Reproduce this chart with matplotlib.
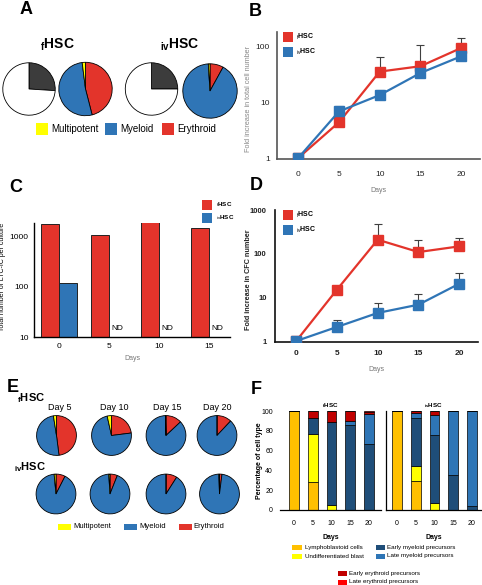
import matplotlib
matplotlib.use('Agg')
import matplotlib.pyplot as plt
from matplotlib.patches import Rectangle
from matplotlib.ticker import NullLocator
import numpy as np

plt.rcParams['font.family'] = 'Liberation Sans'
plt.rcParams['mathtext.fontset'] = 'custom'
plt.rcParams['mathtext.rm'] = 'Liberation Sans'
plt.rcParams['mathtext.bf'] = 'Liberation Sans:bold'

W, H = 482, 585

RED = '#e3342b'
BLUE = '#2f75b6'
YEL = '#ffff00'
DARK = '#3c3c3c'
EGREY = '#404040'

# ---------------- data ----------------
days = [0, 5, 10, 15, 20]

# A: colony forming fraction (dark, rest) and lineage (erythroid, myeloid, multipotent)
a_f_colony = [26, 74]
a_iv_colony = [25, 75]
a_f_lineage = [46, 52, 2]
a_iv_lineage = [8, 91, 1]

# B: fold increase in total cell number
b_f = [1, 4.4, 36, 45, 96]
b_f_up = [1, 4.4, 66, 110, 145]
b_iv = [1, 6.9, 13.6, 34, 68]
b_iv_up = [1, 8.7, 16.7, 34, 68]

# C: LTC-IC per culture
c_days = [0, 5, 10, 15]
c_f = [1820, 1080, 2000, 1480]
c_iv = [118, np.nan, np.nan, np.nan]

# D: fold increase in CFC number
d_f = [1, 15, 209, 109, 147]
d_f_up = [1, 15, 490, 209, 228]
d_iv = [1, 2.1, 4.4, 6.8, 20.5]
d_iv_up = [1, 2.97, 7.5, 12.1, 36.7]

# E: lineage pies per day (erythroid, myeloid, multipotent)
e_titles = ['Day 5', 'Day 10', 'Day 15', 'Day 20']
e_f = [[48, 49.5, 2.5], [23, 73.5, 3.5], [13, 86.5, 0.5], [12, 88, 0]]
e_iv = [[7.5, 91, 1.5], [6, 93, 1], [9, 91, 0], [2, 97.5, 0.5]]

# F: percentage of cell types
f_types = ['Lymphoblastoid cells', 'Undifferentiated blast', 'Early myeloid precursors',
           'Late myeloid precursors', 'Early erythroid precursors', 'Late erythroid precursors']
f_colors = ['#ffc000', '#ffff00', '#1f4e79', '#2e75b6', '#c00000', '#ff0000']
f_f = [[100, 28, 0, 0, 0],
       [0, 49, 5, 0, 0],
       [0, 16, 84, 86, 67],
       [0, 0, 0, 4, 30],
       [0, 7, 11, 10, 2],
       [0, 0, 0, 0, 1]]
f_iv = [[100, 29, 0, 0, 0],
        [0, 15, 7, 0, 0],
        [0, 49, 69, 35, 4],
        [0, 5, 20, 65, 96],
        [0, 2, 4, 0, 0],
        [0, 0, 0, 0, 0]]

fig = plt.figure(figsize=(W / 100, H / 100), dpi=100)


def box(x0, y0, x1, y1):
    return [x0 / W, 1 - y1 / H, (x1 - x0) / W, (y1 - y0) / H]


def ftext(x, y, s, **kw):
    kw.setdefault('ha', 'center')
    kw.setdefault('va', 'center')
    fig.text(x / W, 1 - y / H, s, **kw)


def key(x, y, color, label, w=10, h=10, fs=5, gap=3, **kw):
    fig.add_artist(Rectangle((x / W, 1 - (y + h / 2) / H), w / W, h / H,
                             transform=fig.transFigure, facecolor=color, edgecolor='none'))
    ftext(x + w + gap, y, label, fontsize=fs, ha='left', **kw)


def pie(cx, cy, r, vals, colors):
    ax = fig.add_axes(box(cx - r, cy - r, cx + r, cy + r))
    ax.pie(vals, colors=colors, startangle=90, counterclock=False,
           wedgeprops=dict(edgecolor='black', linewidth=0.6))
    ax.set_xlim(-1.03, 1.03)
    ax.set_ylim(-1.03, 1.03)
    ax.set_aspect('equal')
    ax.axis('off')


lin_cols = [RED, BLUE, YEL]

# ---------------- A ----------------
ftext(26, 9, 'A', fontsize=13, fontweight='bold')
ftext(57, 45, r'$_\mathbf{f}$HSC', fontsize=10, fontweight='bold')
ftext(180, 45, r'$_\mathbf{iv}$HSC', fontsize=10, fontweight='bold')
pie(29, 89, 27, a_f_colony, [DARK, 'white'])
pie(85.5, 89, 27.5, a_f_lineage, lin_cols)
pie(151.5, 89, 27, a_iv_colony, [DARK, 'white'])
pie(210, 91, 28, a_iv_lineage, lin_cols)
key(36, 129, YEL, 'Multipotent', w=12, h=12, fs=7)
key(105, 129, BLUE, 'Myeloid', w=12, h=12, fs=7)
key(162, 129, RED, 'Erythroid', w=12, h=12, fs=7)


# ---------------- B & D ----------------
def growth(ax, f, f_up, iv, iv_up, ylim, yticks, bold, spine_col, ylabel, lab_col):
    ax.set_yscale('log')
    for vals, up, col in [(f, f_up, RED), (iv, iv_up, BLUE)]:
        vals = np.array(vals)
        err = np.array(up) - vals
        ax.errorbar(days, vals, yerr=[np.zeros_like(err), err], fmt='none',
                    ecolor=EGREY, elinewidth=0.8, capsize=3, capthick=0.8, zorder=1)
        ax.plot(days, vals, color=col, lw=1.6, marker='s', ms=7, zorder=3)
    ax.set_ylim(*ylim)
    ax.set_xlim(-2.6, 22.3)
    ax.set_yticks(yticks)
    ax.set_yticklabels([str(t) for t in yticks])
    ax.yaxis.set_minor_locator(NullLocator())
    ax.set_xticks(days)
    w = 'bold' if bold else 'normal'
    ax.tick_params(length=0, labelsize=6, colors='#222222')
    ax.tick_params(axis='x', pad=9)
    ax.tick_params(axis='y', pad=5)
    for lab in ax.get_xticklabels() + ax.get_yticklabels():
        lab.set_fontweight(w)
    for s in ['top', 'right']:
        ax.spines[s].set_visible(False)
    for s in ['left', 'bottom']:
        ax.spines[s].set_color(spine_col)
        ax.spines[s].set_linewidth(1.2)
    ax.set_ylabel(ylabel, fontsize=5.2, fontweight=w, color=lab_col)
    ax.yaxis.set_label_coords(-0.125, 0.47)
    ax.set_xlabel('Days', fontsize=5, color='#777777', labelpad=6)


axb = fig.add_axes(box(277, 32, 480, 159))
growth(axb, b_f, b_f_up, b_iv, b_iv_up, (0.96, 186), [1, 10, 100], False, '#555555',
       'Fold increase in total cell number', '#888888')
ftext(255, 11, 'B', fontsize=13, fontweight='bold')
key(283, 37, RED, r'$_\mathrm{f}$HSC', fs=5, fontweight='bold')
key(283, 52, BLUE, r'$_\mathrm{iv}$HSC', fs=5, fontweight='bold')

axd = fig.add_axes(box(275, 210, 478, 342))
growth(axd, d_f, d_f_up, d_iv, d_iv_up, (0.95, 1000), [1, 10, 100, 1000], True, '#111111',
       'Fold increase in CFC number', '#222222')
axd.tick_params(axis='x', pad=6)
axd.tick_params(axis='y', labelsize=5.5, pad=6)
axd.yaxis.set_label_coords(-0.113, 0.47)
ftext(256, 186, 'D', fontsize=13, fontweight='bold')
key(283, 215, RED, r'$_\mathrm{f}$HSC', fs=5, fontweight='bold')
key(283, 230, BLUE, r'$_\mathrm{iv}$HSC', fs=5, fontweight='bold')

# ---------------- C ----------------
axc = fig.add_axes(box(34, 223, 230, 337))
x = np.arange(len(c_days))
axc.bar(x - 0.18, c_f, width=0.36, color=RED, edgecolor='#222222', linewidth=0.7, log=True)
iv_ok = ~np.isnan(c_iv)
axc.bar(x[iv_ok] + 0.18, np.array(c_iv)[iv_ok], width=0.36, color=BLUE,
        edgecolor='#222222', linewidth=0.7, log=True)
for xi, v in zip(x, c_iv):
    if np.isnan(v):
        axc.text(xi + 0.05, 12.5, 'ND', fontsize=6, ha='left', va='bottom')
axc.set_ylim(10, 1905)
axc.set_xlim(-0.51, 3.43)
axc.set_yticks([10, 100, 1000])
axc.set_yticklabels(['10', '100', '1000'])
axc.yaxis.set_minor_locator(NullLocator())
axc.set_xticks(x)
axc.set_xticklabels([str(d) for d in c_days])
axc.tick_params(length=0, labelsize=6, pad=4)
for s in ['top', 'right']:
    axc.spines[s].set_visible(False)
for s in ['left', 'bottom']:
    axc.spines[s].set_linewidth(1.0)
axc.set_ylabel('Total number of LTC-IC per culture', fontsize=5)
axc.yaxis.set_label_coords(-0.145, 0.53)
axc.set_xlabel('Days', fontsize=5, color='#777777', labelpad=4)
ftext(16, 187, 'C', fontsize=13, fontweight='bold')
key(202, 205, RED, r'$_\mathrm{f}$HSC', fs=4.5, fontweight='bold', gap=4)
key(202, 218, BLUE, r'$_\mathrm{iv}$HSC', fs=4.5, fontweight='bold', gap=4)

# ---------------- E ----------------
ftext(13, 388, 'E', fontsize=13, fontweight='bold')
ftext(31, 398, r'$_\mathbf{f}$HSC', fontsize=8, fontweight='bold')
ftext(30, 467, r'$_\mathbf{iv}$HSC', fontsize=8, fontweight='bold')
row1_x = [56.5, 111.5, 166, 217]
row2_x = [56, 110, 166, 219.5]
title_x = [60, 114, 167, 217]
for i in range(4):
    ftext(title_x[i], 407, e_titles[i], fontsize=6.5)
    pie(row1_x[i], 435.5, 20.5, e_f[i], lin_cols)
    pie(row2_x[i], 494, 20.5, e_iv[i], lin_cols)
key(58, 527, YEL, 'Multipotent', w=13, h=6, fs=5.5, gap=2)
key(124, 527, BLUE, 'Myeloid', w=13, h=6, fs=5.5, gap=2)
key(179, 527, RED, 'Erythroid', w=13, h=6, fs=5.5, gap=1)

# ---------------- F ----------------
ftext(256, 390, 'F', fontsize=13, fontweight='bold')


def stack(ax, table, title):
    bottom = np.zeros(len(days))
    for vals, col in zip(table, f_colors):
        ax.bar(range(len(days)), vals, bottom=bottom, width=0.53, color=col,
               edgecolor='black', linewidth=0.5)
        bottom += np.array(vals)
    ax.set_ylim(0, 100)
    ax.set_xticks(range(len(days)))
    ax.set_xticklabels([str(d) for d in days])
    ax.tick_params(length=0, labelsize=5, pad=7)
    for s in ['top', 'right']:
        ax.spines[s].set_visible(False)
    ax.spines['bottom'].set_linewidth(0.9)
    ax.set_xlabel('Days', fontsize=5, fontweight='bold', labelpad=5)
    ax.set_title(title, fontsize=4.5, fontweight='bold', pad=3)


axf1 = fig.add_axes(box(280, 411, 381, 510))
stack(axf1, f_f, r'$_\mathbf{f}$HSC')
axf1.set_xlim(-0.75, 4.64)
axf1.spines['left'].set_visible(False)
axf1.set_yticks([0, 20, 40, 60, 80, 100])
axf1.tick_params(axis='y', pad=5)
axf1.set_ylabel('Percentage of cell type', fontsize=5, fontweight='bold')
axf1.yaxis.set_label_coords(-0.17, 0.5)

axf2 = fig.add_axes(box(386, 411, 481, 510))
stack(axf2, f_iv, r'$_\mathbf{iv}$HSC')
axf2.set_xlim(-0.59, 4.48)
axf2.set_yticks([])
axf2.spines['left'].set_linewidth(0.9)

key(292, 547, f_colors[0], f_types[0], w=10, h=5, fs=4.5, gap=3)
key(292, 556, f_colors[1], f_types[1], w=10, h=5, fs=4.5, gap=3)
key(376, 547, f_colors[2], f_types[2], w=9, h=5, fs=4.5, gap=2)
key(376, 556, f_colors[3], f_types[3], w=9, h=5, fs=4.5, gap=2)
key(338, 573, f_colors[4], f_types[4], w=9, h=5, fs=4.5, gap=2)
key(338, 582, f_colors[5], f_types[5], w=9, h=5, fs=4.5, gap=2)

fig.savefig('out.png', dpi=100)
